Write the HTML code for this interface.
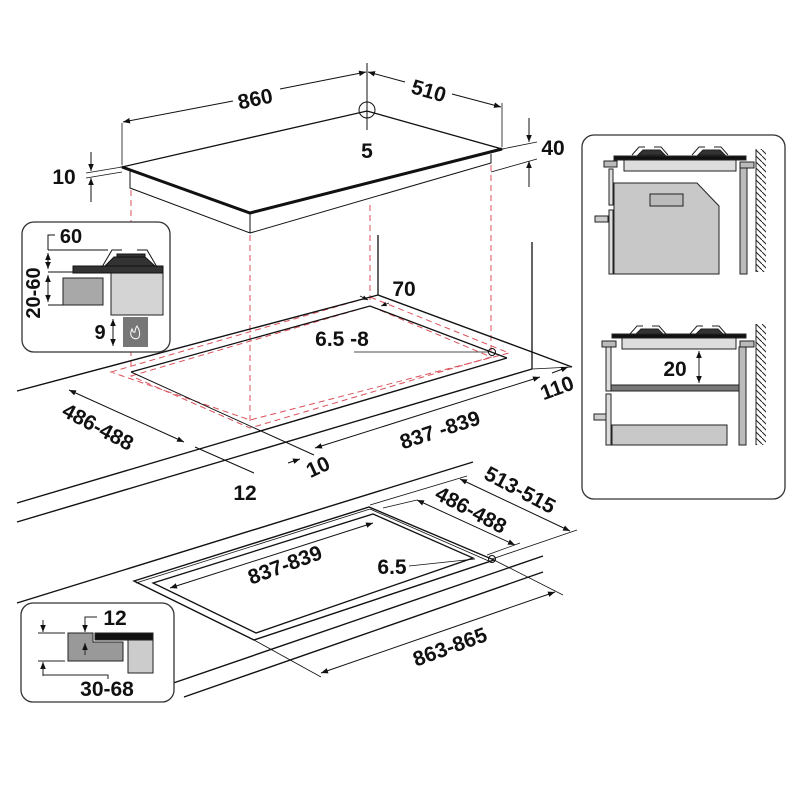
<!DOCTYPE html>
<html><head><meta charset="utf-8"><style>
html,body{margin:0;padding:0;background:#fff;}
svg{display:block;}
text{font-family:"Liberation Sans",sans-serif;font-weight:bold;fill:#111;}
</style></head><body>
<svg width="800" height="800" viewBox="0 0 800 800" xmlns="http://www.w3.org/2000/svg">
<defs>
<marker id="a" viewBox="0 0 10 10" refX="10" refY="5" markerWidth="7" markerHeight="7" orient="auto-start-reverse"><path d="M0,1 L10,5 L0,9 z" fill="#111"/></marker>
<pattern id="h" width="6" height="6" patternUnits="userSpaceOnUse"><path d="M0,0 L6,6" stroke="#222" stroke-width="1"/></pattern>
</defs>
<g stroke="#111" fill="none" stroke-width="1">
<!-- hob -->
<polygon points="122,167 367,111 502,149 250,213" fill="#fff" stroke-width="1.3"/>
<path d="M122,167 L250,213 L502,149" stroke-width="3"/>
<path d="M130,170 L130,188 L250,233 L491,163 L491,154"/>
<path d="M250,213 L250,233"/>
<!-- dims top -->
<line x1="122" y1="123" x2="122" y2="165" stroke-width="0.8"/>
<line x1="502" y1="103" x2="502" y2="147" stroke-width="0.8"/>
<line x1="123" y1="122" x2="233" y2="101" marker-start="url(#a)"/>
<line x1="280" y1="89" x2="366" y2="72" marker-end="url(#a)"/>
<line x1="368" y1="72" x2="405" y2="82" marker-start="url(#a)"/>
<line x1="452" y1="94" x2="501" y2="107" marker-end="url(#a)"/>
<line x1="367" y1="63" x2="367" y2="130"/>
<circle cx="367" cy="110" r="8"/>
<!-- 40 -->
<line x1="502" y1="149" x2="537" y2="142" stroke-width="0.8"/>
<line x1="491" y1="172" x2="537" y2="159" stroke-width="0.8"/>
<line x1="529" y1="118" x2="529" y2="142" marker-end="url(#a)"/>
<line x1="529" y1="187" x2="529" y2="161" marker-end="url(#a)"/>
<!-- 10 -->
<line x1="122" y1="167" x2="86" y2="173" stroke-width="0.8"/>
<line x1="122" y1="172" x2="86" y2="178" stroke-width="0.8"/>
<line x1="91" y1="152" x2="91" y2="171" marker-end="url(#a)"/>
<line x1="91" y1="202" x2="91" y2="178" marker-end="url(#a)"/>
<!-- red dashed -->
<g stroke="#d9505a" stroke-dasharray="6,4">
<line x1="131" y1="190" x2="131" y2="370"/>
<line x1="250" y1="235" x2="250" y2="423"/>
<line x1="370" y1="205" x2="370" y2="300"/>
<line x1="491" y1="165" x2="491" y2="352"/>
<polygon points="111,372 370,297 509,353 250,420"/>
<polygon points="131,376 370,306 491,357 250,428"/>
</g>
<!-- counter / cutout top -->
<line x1="17" y1="391" x2="378" y2="295" stroke-width="1.4"/>
<path d="M378,295 L532,352 L572,367" stroke-width="1.4"/>
<line x1="378" y1="235" x2="378" y2="295" stroke-width="1.3"/>
<line x1="532" y1="242" x2="532" y2="369" stroke-width="1.3"/>
<path d="M131,372 L370,306 L507,358" stroke-width="1.3"/>
<line x1="131" y1="372" x2="314" y2="455"/>
<line x1="507" y1="358" x2="17" y2="503" stroke-width="1.4"/>
<line x1="532" y1="369" x2="17" y2="522" stroke-width="1.4"/>
<line x1="532" y1="369" x2="572" y2="367" stroke-width="0.8"/>
<line x1="552" y1="373" x2="568" y2="367" marker-end="url(#a)"/>
<line x1="354" y1="352" x2="489" y2="352" stroke-width="0.8"/>
<circle cx="492" cy="352" r="3.5"/>
<line x1="69" y1="390" x2="184" y2="442" marker-start="url(#a)" marker-end="url(#a)"/>
<line x1="195" y1="447" x2="254" y2="473"/>
<line x1="288" y1="463" x2="300" y2="459" marker-end="url(#a)"/>
<line x1="315" y1="448" x2="540" y2="377" marker-start="url(#a)" marker-end="url(#a)"/>
<line x1="360" y1="296" x2="368" y2="300" marker-end="url(#a)" stroke-width="0.8"/>
<line x1="389" y1="303" x2="381" y2="306" marker-end="url(#a)" stroke-width="0.8"/>
<!-- bottom drawing -->
<line x1="17" y1="603" x2="473" y2="462" stroke-width="1.4"/>
<polygon points="134,581 369,507 494,560 254,640" stroke-width="1.4"/>
<polygon points="153,583 373,514 473,558 256,633" stroke-width="1.3"/>
<line x1="136" y1="583" x2="370" y2="509" stroke-width="0.8"/>
<line x1="370" y1="509" x2="491" y2="562" stroke-width="0.8"/>
<line x1="153" y1="690" x2="543" y2="556" stroke-width="1.4"/>
<line x1="184" y1="697" x2="543" y2="572" stroke-width="1.4"/>
<line x1="370" y1="505" x2="467" y2="476" stroke-width="0.8"/>
<line x1="383" y1="508" x2="417" y2="500" stroke-width="0.8"/>
<line x1="492" y1="559" x2="577" y2="530" stroke-width="0.8"/>
<line x1="487" y1="555" x2="520" y2="543" stroke-width="0.8"/>
<line x1="460" y1="479" x2="570" y2="531" marker-start="url(#a)" marker-end="url(#a)"/>
<line x1="417" y1="500" x2="515" y2="545" marker-start="url(#a)" marker-end="url(#a)"/>
<line x1="170" y1="588" x2="373" y2="523" marker-start="url(#a)" marker-end="url(#a)"/>
<line x1="409" y1="566" x2="475" y2="559" stroke-width="0.8"/>
<circle cx="492" cy="559" r="3.5"/>
<line x1="492" y1="559" x2="563" y2="595" stroke-width="0.8"/>
<line x1="254" y1="640" x2="321" y2="677" stroke-width="0.8"/>
<line x1="321" y1="673" x2="555" y2="592" marker-start="url(#a)" marker-end="url(#a)"/>
</g>
<!-- labels -->
<text x="255" y="106" font-size="21" text-anchor="middle" transform="rotate(-12 255 98)">860</text>
<text x="429" y="98" font-size="21" text-anchor="middle" transform="rotate(16 429 90)">510</text>
<text x="367" y="158" font-size="21" text-anchor="middle">5</text>
<text x="553" y="155" font-size="21" text-anchor="middle">40</text>
<text x="64" y="184" font-size="21" text-anchor="middle">10</text>
<text x="404" y="296" font-size="21" text-anchor="middle">70</text>
<text x="342" y="346" font-size="21" text-anchor="middle">6.5 -8</text>
<text x="98" y="434" font-size="21" text-anchor="middle" transform="rotate(28 98 427)">486-488</text>
<text x="440" y="437" font-size="21" text-anchor="middle" transform="rotate(-18 440 430)">837 -839</text>
<text x="557" y="395" font-size="21" text-anchor="middle" transform="rotate(-20 557 388)">110</text>
<text x="318" y="474" font-size="21" text-anchor="middle" transform="rotate(-25 318 467)">10</text>
<text x="245" y="500" font-size="21" text-anchor="middle">12</text>
<text x="520" y="497" font-size="21" text-anchor="middle" transform="rotate(28 520 490)">513-515</text>
<text x="471" y="517" font-size="21" text-anchor="middle" transform="rotate(28 471 510)">486-488</text>
<text x="285" y="572" font-size="21" text-anchor="middle" transform="rotate(-20 285 565)">837-839</text>
<text x="392" y="574" font-size="21" text-anchor="middle">6.5</text>
<text x="450" y="654" font-size="21" text-anchor="middle" transform="rotate(-20 450 647)">863-865</text>
<!-- inset 1 -->
<rect x="22" y="222" width="148" height="130" rx="12" fill="#fff" stroke="#333" stroke-width="1.3"/>
<g stroke="#111" stroke-width="1">
<rect x="111" y="272" width="52" height="43" fill="#d4d4d4" stroke="#222"/>
<rect x="63" y="278" width="40" height="27" fill="#a8a8a8" stroke="#222"/>
<rect x="123" y="317" width="25" height="30" fill="#777" stroke="none"/>
<path d="M133,338 q-4,-3 -1,-9 q1,4 3,3 q0,-3 2,-6 q4,6 2,11 q-2,3 -6,1z" fill="none" stroke="#fff"/>
<rect x="73" y="266" width="90" height="7" fill="#333"/>
<polygon points="105,266 114,257 145,257 155,266" fill="#333"/>
<rect x="117" y="254" width="28" height="3" fill="#333"/>
<path d="M102,267 L112,250 L122,250 M137,250 L147,250 L157,267" fill="none"/>
<line x1="48" y1="250" x2="108" y2="250"/>
<line x1="48" y1="272" x2="73" y2="272"/>
<line x1="48" y1="305" x2="63" y2="305"/>
<path d="M48,250 L48,235 L55,235" fill="none"/>
<line x1="48" y1="253" x2="48" y2="269" marker-start="url(#a)" marker-end="url(#a)"/>
<line x1="48" y1="275" x2="48" y2="302" marker-start="url(#a)" marker-end="url(#a)"/>
<line x1="113" y1="319" x2="113" y2="346" marker-start="url(#a)" marker-end="url(#a)"/>
</g>
<text x="71" y="243" font-size="20" text-anchor="middle">60</text>
<text x="0" y="0" font-size="20" text-anchor="middle" transform="translate(40,293) rotate(-90)">20-60</text>
<text x="100" y="339" font-size="20" text-anchor="middle">9</text>
<!-- inset 2 -->
<rect x="21" y="603" width="153" height="99" rx="12" fill="#fff" stroke="#333" stroke-width="1.3"/>
<g stroke="#222" stroke-width="1">
<polygon points="68,633 93,633 93,642 123,642 123,661 68,661" fill="#999"/>
<rect x="128" y="640" width="25" height="33" fill="#ccc"/>
<rect x="95" y="633" width="58" height="7" fill="#111"/>
<line x1="38" y1="633" x2="65" y2="633"/>
<line x1="38" y1="661" x2="65" y2="661"/>
<line x1="43" y1="620" x2="43" y2="632" marker-end="url(#a)"/>
<line x1="43" y1="676" x2="43" y2="662" marker-end="url(#a)"/>
<path d="M43,668 L43,675 L108,675 L108,679" fill="none"/>
<path d="M97,617 L85,617 L85,632" fill="none" marker-end="url(#a)"/>
<line x1="85" y1="655" x2="85" y2="643" marker-end="url(#a)"/>
</g>
<text x="115" y="625" font-size="21" text-anchor="middle">12</text>
<text x="107" y="696" font-size="21" text-anchor="middle">30-68</text>
<!-- right panel -->
<rect x="582" y="135" width="203" height="364" rx="12" fill="#fff" stroke="#333" stroke-width="1.3"/>
<g stroke="#222" stroke-width="1">
<!-- top unit -->
<rect x="756" y="149" width="10" height="123" fill="url(#h)" stroke="none"/>
<line x1="756" y1="149" x2="756" y2="272"/>
<polygon points="614,183 697,183 719,206 719,274 614,274" fill="#c8c8c8"/>
<rect x="650" y="194" width="33" height="12" fill="#bbb"/>
<rect x="609" y="169" width="4" height="36" fill="#ddd"/>
<rect x="609" y="210" width="4" height="64" fill="#ddd"/>
<rect x="595" y="216" width="13" height="6" fill="#ccc"/>
<rect x="740" y="168" width="7" height="106" fill="#bbb"/>
<rect x="624" y="160" width="112" height="11" fill="#ddd"/>
<rect x="614" y="156" width="132" height="4" fill="#111"/>
<rect x="604" y="161" width="13" height="6" fill="#bbb"/>
<rect x="740" y="162" width="14" height="6" fill="#bbb"/>
<path d="M632,155 L639,147 L645,147 M654,147 L661,147 L668,155 M692,155 L699,147 L705,147 M714,147 L721,147 L728,155" fill="none"/>
<polygon points="638,155 643,150 660,150 665,155" fill="#333"/>
<polygon points="698,155 703,150 720,150 725,155" fill="#333"/>
<!-- bottom unit -->
<rect x="756" y="324" width="10" height="121" fill="url(#h)" stroke="none"/>
<line x1="756" y1="324" x2="756" y2="445"/>
<rect x="606" y="347" width="5" height="44" fill="#ddd"/>
<rect x="606" y="394" width="5" height="51" fill="#ddd"/>
<rect x="594" y="414" width="12" height="6" fill="#ccc"/>
<rect x="611" y="385" width="128" height="6" fill="#777"/>
<rect x="612" y="425" width="115" height="20" fill="#c8c8c8"/>
<rect x="739" y="347" width="7" height="98" fill="#bbb"/>
<rect x="622" y="338" width="114" height="11" fill="#ddd"/>
<rect x="612" y="334" width="134" height="4" fill="#111"/>
<rect x="602" y="341" width="14" height="6" fill="#bbb"/>
<rect x="740" y="341" width="14" height="6" fill="#bbb"/>
<path d="M630,334 L637,326 L643,326 M652,326 L659,326 L666,334 M690,334 L697,326 L703,326 M712,326 L719,326 L726,334" fill="none"/>
<polygon points="636,334 641,329 658,329 663,334" fill="#333"/>
<polygon points="696,334 701,329 718,329 723,334" fill="#333"/>
<line x1="699" y1="351" x2="699" y2="383" marker-start="url(#a)" marker-end="url(#a)"/>
</g>
<text x="675" y="376" font-size="21" text-anchor="middle">20</text>
</svg>
</body></html>
